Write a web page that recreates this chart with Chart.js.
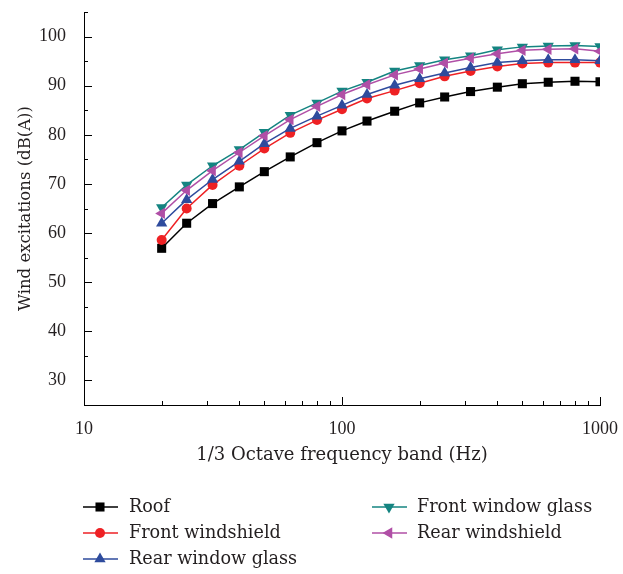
<!DOCTYPE html>
<html>
<head>
<meta charset="utf-8">
<script src="https://cdn.jsdelivr.net/npm/chart.js@4/dist/chart.umd.min.js"></script>
<style>
  html, body { margin: 0; padding: 0; background: #fff; }
  #wrap { width: 623px; height: 574px; position: relative; }
</style>
</head>
<body>
<div id="wrap"><canvas id="myChart" width="623" height="574"></canvas></div>
<script>
// 1/3 octave band centre frequencies (Hz)
const freqs = [20, 25, 31.5, 40, 50, 63, 80, 100, 125, 160, 200, 250, 315, 400, 500, 630, 800, 1000];

const roof = [56.9, 62.0, 66.0, 69.4, 72.5, 75.5, 78.4, 80.8, 82.8, 84.8, 86.5, 87.7, 88.8, 89.7, 90.4, 90.7, 90.9, 90.8];
const frontWindshield = [58.6, 65.0, 69.8, 73.7, 77.2, 80.4, 83.0, 85.2, 87.4, 89.0, 90.5, 91.9, 93.0, 93.9, 94.5, 94.7, 94.7, 94.7];
const rearWindowGlass = [62.0, 66.8, 70.9, 74.6, 78.2, 81.3, 83.8, 86.0, 88.2, 90.1, 91.4, 92.6, 93.7, 94.7, 95.1, 95.3, 95.3, 95.1];
const frontWindowGlass = [65.2, 69.8, 73.7, 77.0, 80.5, 84.0, 86.5, 88.9, 90.7, 93.0, 94.1, 95.3, 96.1, 97.3, 97.9, 98.1, 98.2, 98.0];
const rearWindshield = [64.0, 68.7, 72.7, 76.4, 79.8, 83.1, 85.8, 88.2, 90.2, 92.2, 93.4, 94.6, 95.6, 96.5, 97.2, 97.4, 97.5, 97.0];

const xTickLabels = [10, 100, 1000];
const yTickLabels = [30, 40, 50, 60, 70, 80, 90, 100];

const TICK_FONT = "'Liberation Serif', serif";
const TEXT_FONT = "'DejaVu Serif', serif";
const TEXT = "#231f20";

function toPoints(values) {
  return values.map((v, i) => ({ x: freqs[i], y: v }));
}

function makeSet(label, values, color, style, radius, rotation, order) {
  return {
    label: label,
    data: toPoints(values),
    borderColor: color,
    backgroundColor: color,
    borderWidth: 1.5,
    pointStyle: style,
    pointRadius: radius,
    pointHoverRadius: radius,
    pointRotation: rotation,
    pointBorderWidth: 0,
    order: order,
  };
}

// inward ticks (major + minor) drawn on both axes
const tickPlugin = {
  id: "inTicks",
  afterDraw(chart) {
    const { ctx, chartArea, scales } = chart;
    ctx.save();
    ctx.strokeStyle = "#000";
    ctx.lineWidth = 1;
    ctx.beginPath();
    for (let v = 25; v <= 105; v += 5) {
      const y = Math.round(scales.y.getPixelForValue(v)) + 0.5;
      const len = v % 10 === 0 ? 8 : 4;
      ctx.moveTo(chartArea.left, y);
      ctx.lineTo(chartArea.left + len, y);
    }
    [10, 100].forEach((dec) => {
      for (let k = 1; k <= 10; k++) {
        const v = dec * k;
        if (v > 1000) continue;
        const x = Math.round(scales.x.getPixelForValue(v)) + 0.5;
        const len = k === 1 || k === 10 ? 8 : 4;
        ctx.moveTo(x, chartArea.bottom);
        ctx.lineTo(x, chartArea.bottom - len);
      }
    });
    ctx.stroke();
    ctx.restore();
  },
};

// two-column legend under the plot
const legendPlugin = {
  id: "colLegend",
  afterDraw(chart) {
    const { ctx } = chart;
    ctx.save();
    ctx.font = "17.6px " + TEXT_FONT;
    ctx.textBaseline = "middle";
    chart.data.datasets.forEach((ds, i) => {
      const col = i < 3 ? 0 : 1;
      const row = i < 3 ? i : i - 3;
      const x0 = col ? 372 : 83;
      const y = 507 + row * 26;
      ctx.strokeStyle = ds.borderColor;
      ctx.lineWidth = 1.5;
      ctx.beginPath();
      ctx.moveTo(x0, y);
      ctx.lineTo(x0 + 35, y);
      ctx.stroke();
      ctx.fillStyle = ds.backgroundColor;
      Chart.helpers.drawPoint(ctx, {
        pointStyle: ds.pointStyle,
        radius: ds.pointRadius,
        rotation: ds.pointRotation,
        borderWidth: 0,
      }, x0 + 17, y);
      ctx.fillStyle = TEXT;
      ctx.fillText(ds.label, col ? 417 : 129, y);
    });
    ctx.restore();
  },
};

function createChart() {
  const data = {
    datasets: [
      makeSet("Roof", roof, "#000000", "rect", 6.4, 0, 4),
      makeSet("Front windshield", frontWindshield, "#ee2124", "circle", 5, 0, 3),
      makeSet("Rear window glass", rearWindowGlass, "#2e4b9d", "triangle", 6.5, 0, 2),
      makeSet("Front window glass", frontWindowGlass, "#148481", "triangle", 6.5, 180, 1),
      makeSet("Rear windshield", rearWindshield, "#b04fa6", "triangle", 6.5, 270, 0),
    ],
  };

  const config = {
    type: "line",
    data,
    options: {
      responsive: false,
      animation: false,
      layout: { padding: { left: 0, right: 22, top: 12, bottom: 103 } },
      plugins: {
        legend: { display: false },
        tooltip: { enabled: false },
      },
      scales: {
        x: {
          type: "logarithmic",
          min: 10,
          max: 1000,
          grid: { display: false },
          border: { display: true, color: "#000", width: 1 },
          ticks: {
            autoSkip: false,
            maxRotation: 0,
            padding: 5,
            color: TEXT,
            font: { family: TICK_FONT, size: 18 },
            callback: (v) => (xTickLabels.includes(v) ? String(v) : ""),
          },
          title: {
            display: true,
            text: "1/3 Octave frequency band (Hz)",
            color: TEXT,
            font: { family: TEXT_FONT, size: 18 },
            padding: { top: 0, bottom: 5 },
          },
          afterFit: (scale) => { scale.height = 66; },
        },
        y: {
          type: "linear",
          min: 25,
          max: 105,
          grid: { display: false },
          border: { display: true, color: "#000", width: 1 },
          ticks: {
            stepSize: 5,
            autoSkip: false,
            padding: 10,
            color: TEXT,
            font: { family: TICK_FONT, size: 18 },
            callback: (v) => (yTickLabels.includes(v) ? String(v) : ""),
          },
          title: {
            display: true,
            text: "Wind excitations (dB(A))",
            color: TEXT,
            font: { family: TEXT_FONT, size: 16.5 },
            padding: { top: 16, bottom: 0 },
          },
          afterFit: (scale) => {
            scale.width = 84;
            scale.paddingTop = 0;
            scale.paddingBottom = 0;
          },
        },
      },
    },
    plugins: [tickPlugin, legendPlugin],
  };
  new Chart(document.getElementById("myChart"), config);
}

document.addEventListener("DOMContentLoaded", () => {
  createChart();
});
</script>
</body>
</html>
